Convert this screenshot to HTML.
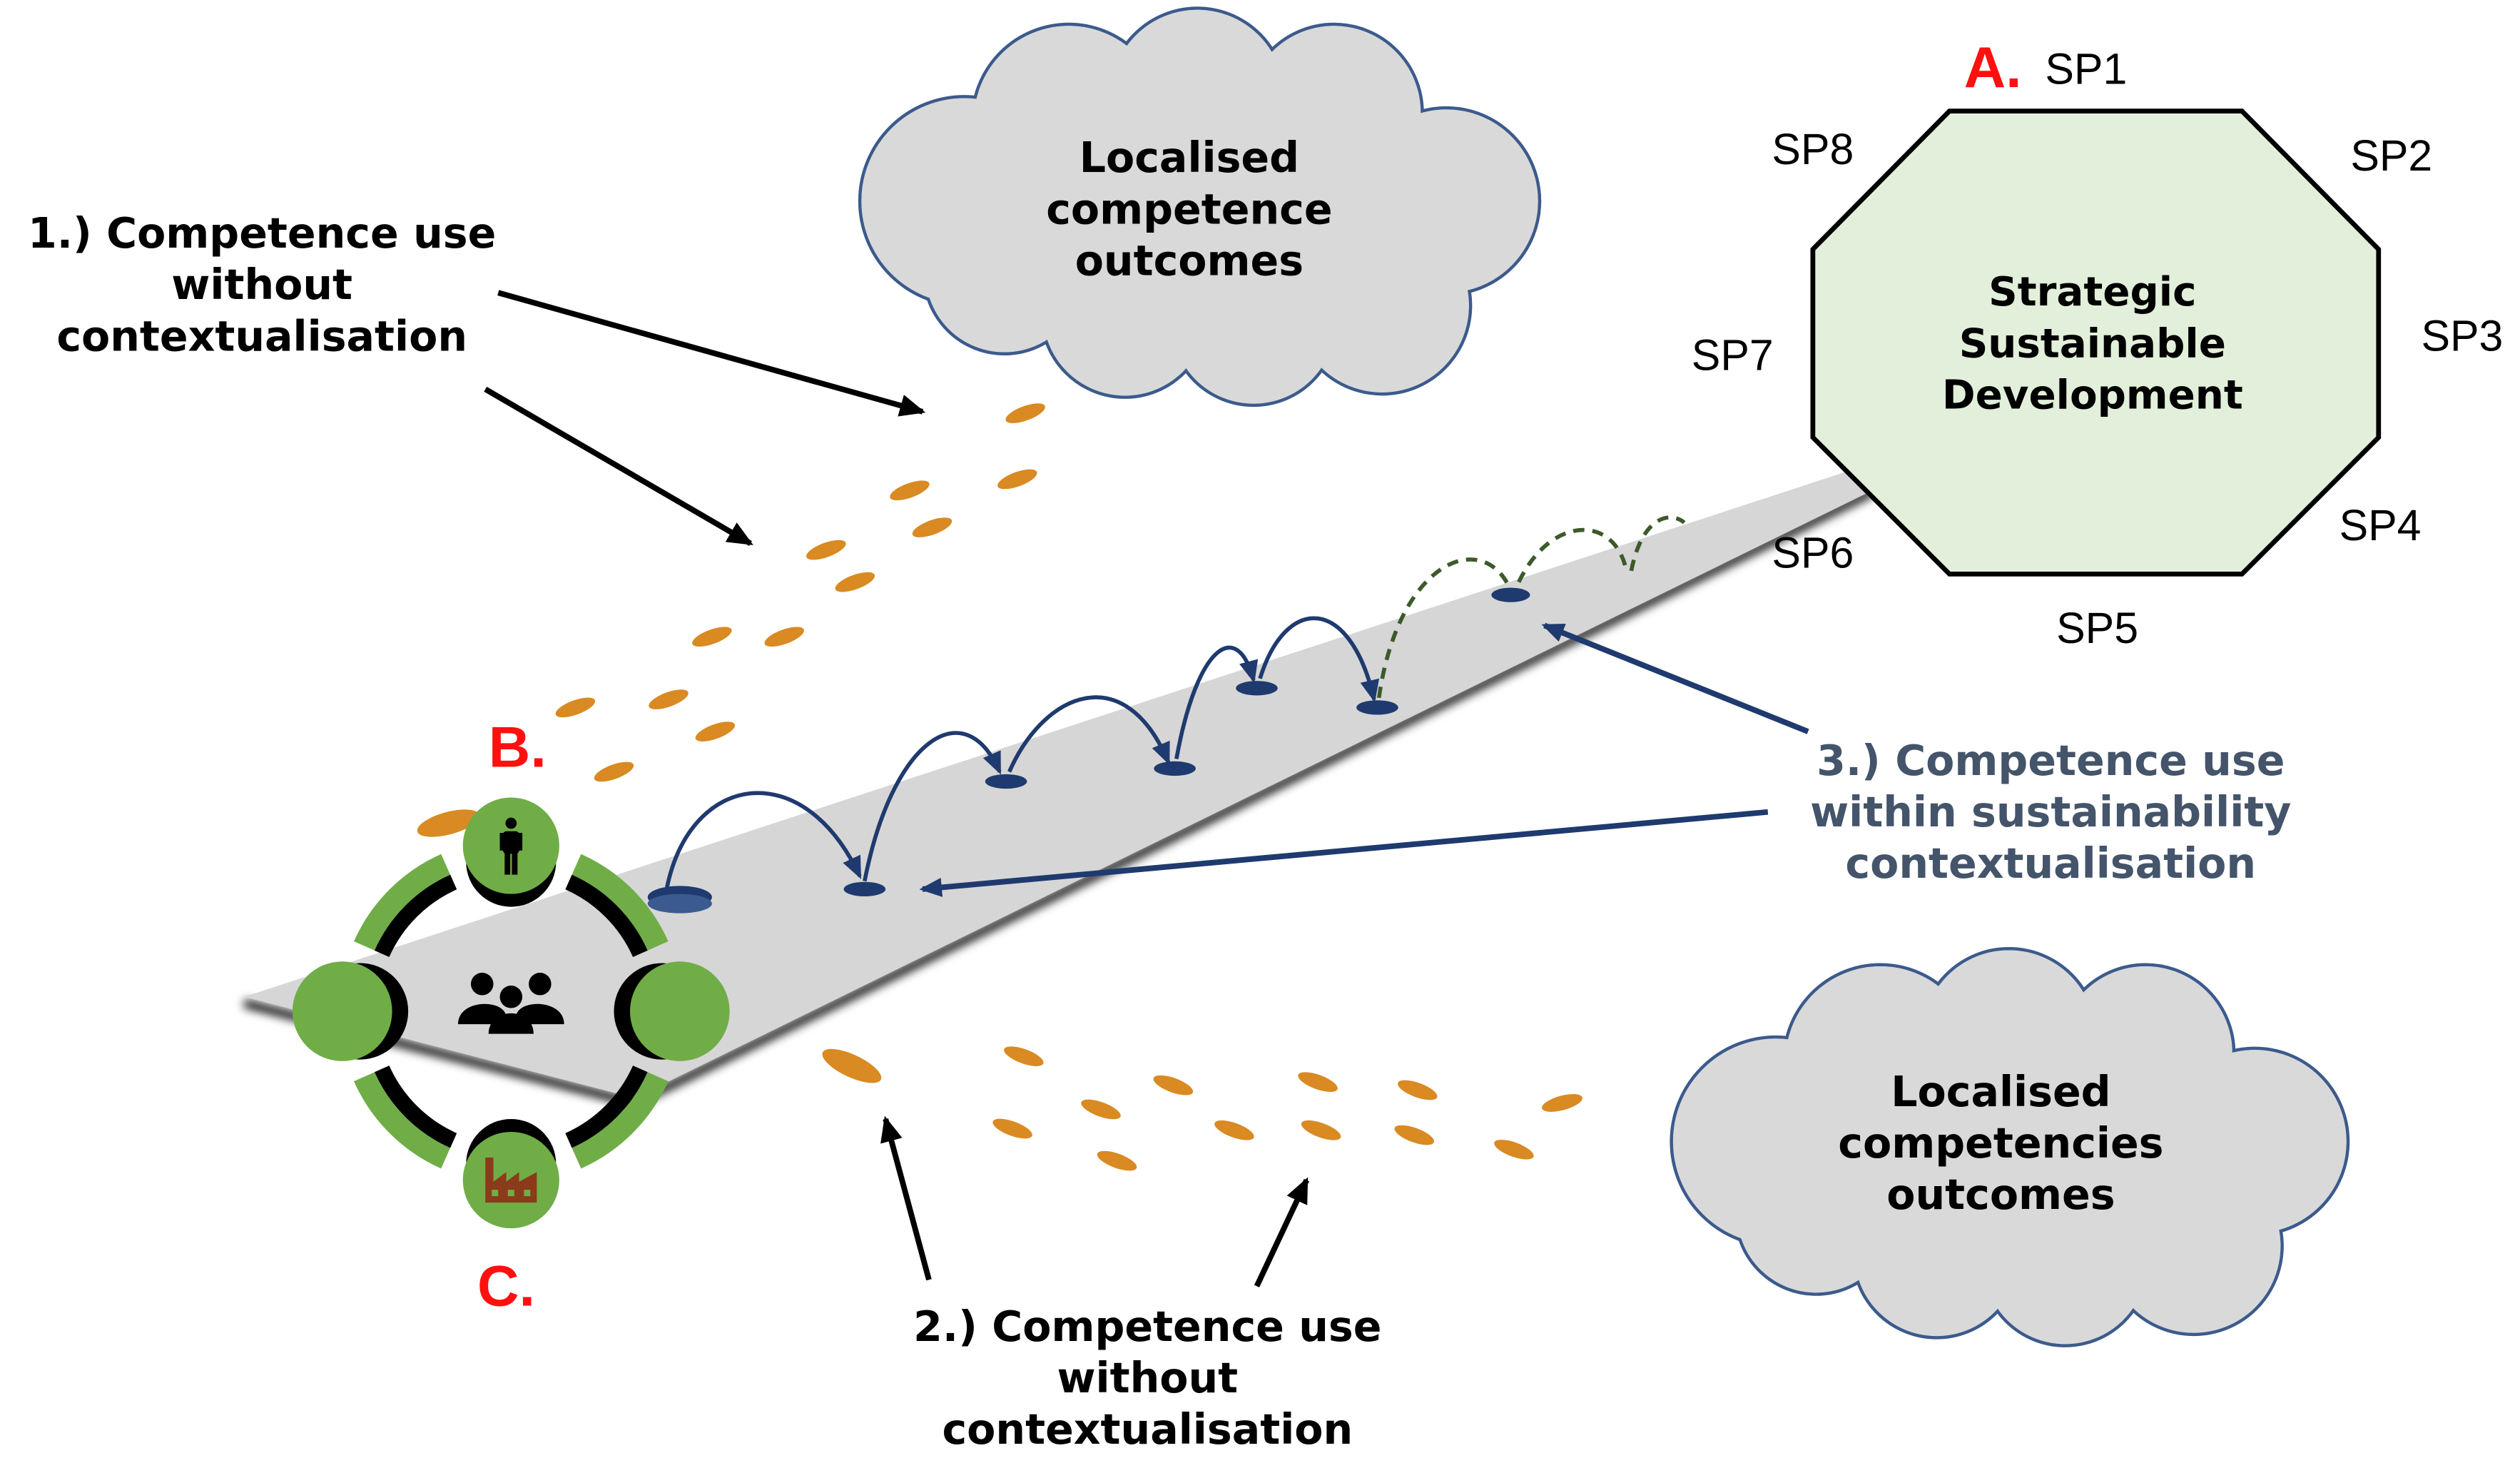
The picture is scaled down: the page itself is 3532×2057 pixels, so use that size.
<!DOCTYPE html>
<html><head><meta charset="utf-8">
<style>
html,body{margin:0;padding:0;background:#fff;}
svg{display:block;}
.lb{font-family:"DejaVu Sans","Liberation Sans",sans-serif;font-weight:bold;font-size:26px;text-anchor:middle;fill:#000;}
.sp{font-family:"Liberation Sans Narrow","Liberation Sans",sans-serif;font-size:27px;fill:#000;text-anchor:middle;}
.red{font-family:"Liberation Sans",sans-serif;font-weight:bold;font-size:36px;fill:#ff1010;}
</style></head>
<body>
<svg width="3532" height="2057" viewBox="0 0 1568 913" xmlns="http://www.w3.org/2000/svg">
<defs>
<marker id="an" markerWidth="14" markerHeight="12" refX="12" refY="6" orient="auto" markerUnits="userSpaceOnUse"><path d="M0,0 L14,6 L0,12 z" fill="#1f3a6e"/></marker>
<marker id="ak" markerWidth="16" markerHeight="14" refX="14" refY="7" orient="auto" markerUnits="userSpaceOnUse"><path d="M0,0 L16,7 L0,14 z" fill="#000"/></marker>
<filter id="bl"><feGaussianBlur stdDeviation="3"/></filter>
</defs>

<!-- clouds -->
<g stroke="#3c5a8c" stroke-width="2" fill="#d9d9d9">
  <circle cx="600" cy="125" r="65"/><circle cx="665" cy="75" r="60"/><circle cx="745" cy="60" r="55"/><circle cx="830" cy="70" r="55"/><circle cx="900" cy="125" r="58"/><circle cx="860" cy="190" r="55"/><circle cx="780" cy="200" r="52"/><circle cx="700" cy="195" r="52"/><circle cx="625" cy="170" r="50"/>
</g>
<g fill="#d9d9d9">
  <circle cx="600" cy="125" r="64"/><circle cx="665" cy="75" r="59"/><circle cx="745" cy="60" r="54"/><circle cx="830" cy="70" r="54"/><circle cx="900" cy="125" r="57"/><circle cx="860" cy="190" r="54"/><circle cx="780" cy="200" r="51"/><circle cx="700" cy="195" r="51"/><circle cx="625" cy="170" r="49"/><ellipse cx="750" cy="130" rx="150" ry="70"/>
</g>
<g stroke="#3c5a8c" stroke-width="2" fill="#d9d9d9">
  <circle cx="1105" cy="710" r="65"/><circle cx="1170" cy="660" r="60"/><circle cx="1250" cy="645" r="55"/><circle cx="1335" cy="655" r="55"/><circle cx="1403" cy="710" r="58"/><circle cx="1365" cy="775" r="55"/><circle cx="1285" cy="785" r="52"/><circle cx="1205" cy="780" r="52"/><circle cx="1130" cy="755" r="50"/>
</g>
<g fill="#d9d9d9">
  <circle cx="1105" cy="710" r="64"/><circle cx="1170" cy="660" r="59"/><circle cx="1250" cy="645" r="54"/><circle cx="1335" cy="655" r="54"/><circle cx="1403" cy="710" r="57"/><circle cx="1365" cy="775" r="54"/><circle cx="1285" cy="785" r="51"/><circle cx="1205" cy="780" r="51"/><circle cx="1130" cy="755" r="49"/><ellipse cx="1255" cy="715" rx="150" ry="70"/>
</g>
<text class="lb"><tspan x="740" y="107">Localised</tspan><tspan x="740" y="139">competence</tspan><tspan x="740" y="171">outcomes</tspan></text>
<text class="lb"><tspan x="1245" y="688">Localised</tspan><tspan x="1245" y="720">competencies</tspan><tspan x="1245" y="752">outcomes</tspan></text>

<!-- ramp -->
<path d="M152,624 L395,686 L1165,306" fill="none" stroke="#000" stroke-width="5" filter="url(#bl)"/>
<polygon points="152,620 1165,288 1165,305 395,683" fill="#d6d6d6"/>

<!-- octagon -->
<polygon points="1213,69 1395,69 1480,155 1480,272 1395,357 1213,357 1128,272 1128,155" fill="#e2efda" stroke="#000" stroke-width="3"/>
<text class="lb" style="font-size:25px"><tspan x="1302" y="190">Strategic</tspan><tspan x="1302" y="222">Sustainable</tspan><tspan x="1302" y="254">Development</tspan></text>
<text class="red" x="1222" y="54">A.</text>
<text class="sp" x="1298" y="52">SP1</text>
<text class="sp" x="1488" y="106">SP2</text>
<text class="sp" x="1532" y="218">SP3</text>
<text class="sp" x="1481" y="336">SP4</text>
<text class="sp" x="1305" y="400">SP5</text>
<text class="sp" x="1128" y="353">SP6</text>
<text class="sp" x="1078" y="230">SP7</text>
<text class="sp" x="1128" y="102">SP8</text>

<!-- orange footprints -->
<g fill="#d98a22">
<ellipse cx="638" cy="257" rx="13" ry="4.5" transform="rotate(-20 638 257)"/>
<ellipse cx="633" cy="298" rx="13" ry="4.5" transform="rotate(-20 633 298)"/>
<ellipse cx="566" cy="305" rx="13" ry="4.5" transform="rotate(-20 566 305)"/>
<ellipse cx="580" cy="328" rx="13" ry="4.5" transform="rotate(-20 580 328)"/>
<ellipse cx="514" cy="342" rx="13" ry="4.5" transform="rotate(-20 514 342)"/>
<ellipse cx="532" cy="362" rx="13" ry="4.5" transform="rotate(-20 532 362)"/>
<ellipse cx="488" cy="396" rx="13" ry="4.5" transform="rotate(-20 488 396)"/>
<ellipse cx="443" cy="396" rx="13" ry="4.5" transform="rotate(-20 443 396)"/>
<ellipse cx="416" cy="435" rx="13" ry="4.5" transform="rotate(-20 416 435)"/>
<ellipse cx="358" cy="440" rx="13" ry="4.5" transform="rotate(-20 358 440)"/>
<ellipse cx="445" cy="455" rx="13" ry="4.5" transform="rotate(-20 445 455)"/>
<ellipse cx="382" cy="480" rx="13" ry="4.5" transform="rotate(-20 382 480)"/>
<ellipse cx="279" cy="512" rx="20" ry="7" transform="rotate(-15 279 512)"/>
<ellipse cx="530" cy="663" rx="20" ry="7" transform="rotate(25 530 663)"/>
<ellipse cx="637" cy="657" rx="13" ry="4.5" transform="rotate(20 637 657)"/>
<ellipse cx="685" cy="690" rx="13" ry="4.5" transform="rotate(20 685 690)"/>
<ellipse cx="630" cy="702" rx="13" ry="4.5" transform="rotate(20 630 702)"/>
<ellipse cx="730" cy="675" rx="13" ry="4.5" transform="rotate(20 730 675)"/>
<ellipse cx="695" cy="722" rx="13" ry="4.5" transform="rotate(20 695 722)"/>
<ellipse cx="768" cy="703" rx="13" ry="4.5" transform="rotate(20 768 703)"/>
<ellipse cx="820" cy="673" rx="13" ry="4.5" transform="rotate(20 820 673)"/>
<ellipse cx="882" cy="678" rx="13" ry="4.5" transform="rotate(20 882 678)"/>
<ellipse cx="822" cy="703" rx="13" ry="4.5" transform="rotate(20 822 703)"/>
<ellipse cx="880" cy="706" rx="13" ry="4.5" transform="rotate(20 880 706)"/>
<ellipse cx="942" cy="715" rx="13" ry="4.5" transform="rotate(20 942 715)"/>
<ellipse cx="972" cy="686" rx="13" ry="4.5" transform="rotate(-15 972 686)"/>
</g>

<!-- blue hops -->
<g fill="#1f3a6e">
<ellipse cx="423" cy="558" rx="20" ry="7"/><ellipse cx="423" cy="562" rx="20" ry="6" fill="#3a5a90"/>
<ellipse cx="538" cy="553" rx="13" ry="4.5"/>
<ellipse cx="626" cy="486" rx="13" ry="4.5"/>
<ellipse cx="731" cy="478" rx="13" ry="4.5"/>
<ellipse cx="782" cy="428" rx="13" ry="4.5"/>
<ellipse cx="857" cy="440" rx="13" ry="4.5"/>
<ellipse cx="940" cy="370" rx="12" ry="4.5"/>
</g>
<g fill="none" stroke="#1f3a6e" stroke-width="2.5">
<path d="M415,552 C430,480 500,470 535,545" marker-end="url(#an)"/>
<path d="M538,548 C555,460 600,430 622,480" marker-end="url(#an)"/>
<path d="M628,480 C650,430 700,410 727,474" marker-end="url(#an)"/>
<path d="M732,472 C745,400 770,385 780,423" marker-end="url(#an)"/>
<path d="M784,422 C800,370 840,370 855,435" marker-end="url(#an)"/>
</g>
<g fill="none" stroke="#3d5a2a" stroke-width="2.5" stroke-dasharray="7,5">
<path d="M858,434 C870,350 920,330 938,363"/>
<path d="M945,362 C965,320 1005,320 1012,355"/>
<path d="M1015,355 C1022,320 1040,318 1048,325"/>
</g>

<!-- arrows -->
<g stroke="#000" stroke-width="3.5" fill="none">
<line x1="310" y1="182" x2="574" y2="256" marker-end="url(#ak)"/>
<line x1="302" y1="242" x2="467" y2="338" marker-end="url(#ak)"/>
<line x1="578" y1="796" x2="551" y2="696" marker-end="url(#ak)"/>
<line x1="782" y1="800" x2="813" y2="734" marker-end="url(#ak)"/>
</g>
<g stroke="#1f3a6e" stroke-width="3.5" fill="none">
<line x1="1125" y1="455" x2="961" y2="389" marker-end="url(#an)"/>
<line x1="1100" y1="505" x2="574" y2="553" marker-end="url(#an)"/>
</g>

<!-- circle assembly -->
<g transform="translate(318,629)">
  <g fill="none" stroke="#70ad47" stroke-width="14">
    <path d="M40.7,-91.4 A100,100 0 0 1 91.4,-40.7"/>
    <path d="M91.4,40.7 A100,100 0 0 1 40.7,91.4"/>
    <path d="M-40.7,91.4 A100,100 0 0 1 -91.4,40.7"/>
    <path d="M-91.4,-40.7 A100,100 0 0 1 -40.7,-91.4"/>
  </g>
  <g fill="none" stroke="#000" stroke-width="10">
    <path d="M35.8,-80.4 A88,88 0 0 1 80.4,-35.8"/>
    <path d="M80.4,35.8 A88,88 0 0 1 35.8,80.4"/>
    <path d="M-35.8,80.4 A88,88 0 0 1 -80.4,35.8"/>
    <path d="M-80.4,-35.8 A88,88 0 0 1 -35.8,-80.4"/>
  </g>
  <circle cx="0" cy="-93" r="28" fill="#000"/>
  <circle cx="0" cy="-103" r="30" fill="#70ad47"/>
  <circle cx="0" cy="95" r="28" fill="#000"/>
  <circle cx="0" cy="105" r="30" fill="#70ad47"/>
  <circle cx="-94" cy="0" r="30" fill="#000"/>
  <circle cx="-105" cy="0" r="31" fill="#70ad47"/>
  <circle cx="94" cy="0" r="30" fill="#000"/>
  <circle cx="105" cy="0" r="31" fill="#70ad47"/>
  <!-- person -->
  <g fill="#000">
    <circle cx="0" cy="-117" r="3.5"/>
    <rect x="-5" y="-112" width="10" height="14" rx="2"/>
    <rect x="-4" y="-99" width="3.5" height="14"/><rect x="0.5" y="-99" width="3.5" height="14"/>
    <rect x="-7" y="-111" width="2.5" height="11"/><rect x="4.5" y="-111" width="2.5" height="11"/>
  </g>
  <!-- factory -->
  <path d="M-16,119 L-16,91 L-11,91 L-11,106 L-3,100 L-3,106 L5,100 L5,106 L16,100 L16,119 Z" fill="#8b3a1a"/>
  <g fill="#70ad47"><rect x="-12" y="111" width="4" height="4"/><rect x="-2" y="111" width="4" height="4"/><rect x="8" y="111" width="4" height="4"/></g>
  <!-- group -->
  <g fill="#000">
    <circle cx="-18" cy="-17" r="7"/><circle cx="18" cy="-17" r="7"/><circle cx="0" cy="-9" r="7"/>
    <path d="M-33,8 C-33,-8 -3,-8 -3,4 L-8,8 Z"/>
    <path d="M33,8 C33,-8 3,-8 3,4 L8,8 Z"/>
    <path d="M-14,14 C-14,-3 14,-3 14,14 Z"/>
  </g>
</g>
<text class="red" x="304" y="477">B.</text>
<text class="red" x="297" y="812">C.</text>

<!-- labels -->
<text class="lb"><tspan x="163" y="154">1.) Competence use</tspan><tspan x="163" y="186">without</tspan><tspan x="163" y="218">contextualisation</tspan></text>
<text class="lb"><tspan x="714" y="834">2.) Competence use</tspan><tspan x="714" y="866">without</tspan><tspan x="714" y="898">contextualisation</tspan></text>
<text class="lb" style="fill:#44546a"><tspan x="1276" y="482">3.) Competence use</tspan><tspan x="1276" y="514">within sustainability</tspan><tspan x="1276" y="546">contextualisation</tspan></text>
</svg>
</body></html>
